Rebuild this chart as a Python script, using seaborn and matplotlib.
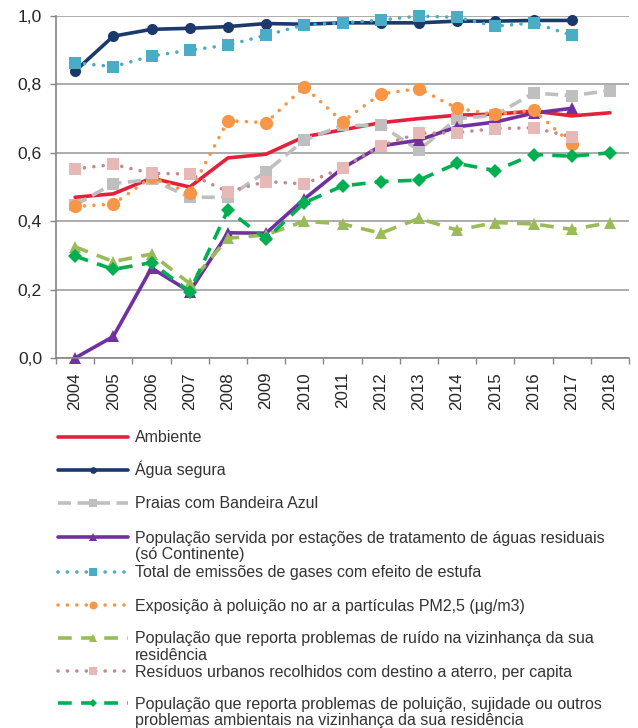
import numpy as np
import pandas as pd
import seaborn as sns
import matplotlib.pyplot as plt
from matplotlib.ticker import FuncFormatter

# >>>>>>>>>>>>>>>>>>>> data <<<<<<<<<<<<<<<<<<<<
years = list(range(2004, 2019))
nan = np.nan
ambiente = [0.47, 0.48, 0.526, 0.50, 0.585, 0.596, 0.647, 0.667, 0.688, 0.70, 0.71, 0.713, 0.722, 0.708, 0.717]
agua = [0.839, 0.941, 0.961, 0.964, 0.969, 0.978, 0.976, 0.98, 0.98, 0.98, 0.985, 0.985, 0.987, 0.987, nan]
praias = [0.447, 0.51, 0.522, 0.47, 0.47, 0.545, 0.637, 0.68, 0.68, 0.608, 0.70, 0.71, 0.775, 0.767, 0.782]
etar = [0.0, 0.063, 0.263, 0.194, 0.366, 0.365, 0.465, 0.555, 0.62, 0.637, 0.676, 0.69, 0.716, 0.73, nan]
emissoes = [0.863, 0.852, 0.883, 0.90, 0.915, 0.944, 0.974, 0.98, 0.988, 1.0, 0.996, 0.97, 0.98, 0.944, nan]
pm25 = [0.443, 0.45, 0.528, 0.483, 0.694, 0.688, 0.793, 0.691, 0.772, 0.788, 0.73, 0.712, 0.725, 0.626, nan]
ruido = [0.325, 0.282, 0.304, 0.218, 0.35, 0.36, 0.40, 0.392, 0.365, 0.408, 0.374, 0.396, 0.392, 0.376, 0.396]
residuos = [0.553, 0.566, 0.54, 0.538, 0.486, 0.516, 0.509, 0.556, 0.621, 0.657, 0.659, 0.671, 0.673, 0.647, nan]
poluicao = [0.298, 0.259, 0.279, 0.194, 0.433, 0.347, 0.454, 0.503, 0.516, 0.52, 0.569, 0.548, 0.595, 0.59, 0.60]

labels = ["Ambiente",
          "Água segura",
          "Praias com Bandeira Azul",
          "População servida por estações de tratamento de águas residuais\n(só Continente)",
          "Total de emissões de gases com efeito de estufa",
          "Exposição à poluição no ar a partículas PM2,5 (µg/m3)",
          "População que reporta problemas de ruído na vizinhança da sua\nresidência",
          "Resíduos urbanos recolhidos com destino a aterro, per capita",
          "População que reporta problemas de poluição, sujidade ou outros\nproblemas ambientais na vizinhança da sua residência"]
series = [ambiente, agua, praias, etar, emissoes, pm25, ruido, residuos, poluicao]

# styles: line colour, marker colour, linestyle, marker, marker size (pt)
dot = (0, (0.01, 2.6))
styles = [
    dict(color='#E2213A', mcolor='#E2213A', ls='-', marker=None, ms=0),
    dict(color='#1B3A6B', mcolor='#1B3A6B', ls='-', marker='o', ms=8),
    dict(color='#BFBFBF', mcolor='#BFBFBF', ls=(0, (3.6, 1.8)), marker='s', ms=9),
    dict(color='#7030A0', mcolor='#7030A0', ls='-', marker='^', ms=8.5),
    dict(color='#4BACC6', mcolor='#4BACC6', ls=dot, marker='s', ms=9),
    dict(color='#F79646', mcolor='#F79646', ls=dot, marker='o', ms=9.5),
    dict(color='#9BBB59', mcolor='#9BBB59', ls=(0, (3.8, 2.6)), marker='^', ms=8.5),
    dict(color='#C48A8C', mcolor='#E6B9B8', ls=dot, marker='s', ms=9),
    dict(color='#00B050', mcolor='#00B050', ls=(0, (3.8, 2.6)), marker='D', ms=7),
]

sns.set_style("white")
plt.rcParams['font.family'] = ['Liberation Sans', 'DejaVu Sans']

fig = plt.figure(figsize=(6.38, 7.28), dpi=100)
ax = fig.add_axes([56/638, 1-358/728, (629-56)/638, (358-16)/728])

for lab, vals, st in zip(labels, series, styles):
    df = pd.DataFrame({'year': years, 'value': vals}).dropna()
    kw = dict(color=st['color'], linestyle=st['ls'], linewidth=2.6,
              dash_capstyle='round' if st['ls'] is dot else 'butt', clip_on=False)
    if st['marker']:
        kw.update(marker=st['marker'], markersize=st['ms'], markerfacecolor=st['mcolor'],
                  markeredgecolor=st['mcolor'], markeredgewidth=0)
    sns.lineplot(data=df, x='year', y='value', ax=ax, legend=False, **kw)

ax.set_xlim(2003.5, 2018.5)
ax.set_ylim(0, 1.0)
ax.set_xlabel('')
ax.set_ylabel('')
ax.set_yticks([0, 0.2, 0.4, 0.6, 0.8, 1.0])
ax.yaxis.set_major_formatter(FuncFormatter(lambda v, p: f"{v:.1f}".replace('.', ',')))
ax.set_xticks(years)
ax.set_xticklabels([str(y) for y in years], rotation=90)
ax.set_xticks(np.arange(2003.5, 2019, 1.0), minor=True)
ax.tick_params(axis='x', which='major', length=0, pad=10, labelsize=12.2, colors='#262626')
ax.tick_params(axis='x', which='minor', length=4, width=1, color='#868686', direction='out', bottom=True)
ax.tick_params(axis='y', length=4, width=1, color='#868686', direction='out', left=True, pad=6,
               labelsize=12.6, labelcolor='#262626')
ax.yaxis.grid(True, color='#A6A6A6', linewidth=1.3)
ax.set_axisbelow(True)
for s in ['top', 'right']:
    ax.spines[s].set_visible(False)
for s in ['left', 'bottom']:
    ax.spines[s].set_color('#868686')
    ax.spines[s].set_linewidth(1.2)

# legend drawn by hand so every slot has the same height (Excel style)
leg = fig.add_axes([0, 0, 1, 1])
leg.set_xlim(0, 638)
leg.set_ylim(728, 0)
leg.axis('off')
leg.patch.set_alpha(0)
slot_y = [437, 470, 503, 537, 572, 605, 638, 671, 703]
for lab, st, y in zip(labels, styles, slot_y):
    leg.plot([58, 128], [y, y], color=st['color'], linestyle=st['ls'], linewidth=2.6,
             dash_capstyle='round' if st['ls'] is dot else 'butt')
    if st['marker']:
        leg.plot([93], [y], marker=st['marker'], markersize=st['ms'] * 0.6, color=st['mcolor'],
                 markeredgewidth=0)
    for i, line in enumerate(lab.split('\n')):
        leg.text(135, y + 5.5 + 16.5 * i, line, va='baseline', ha='left', fontsize=11.5,
                 color='#333333')

fig.savefig('out.png', dpi=100)
